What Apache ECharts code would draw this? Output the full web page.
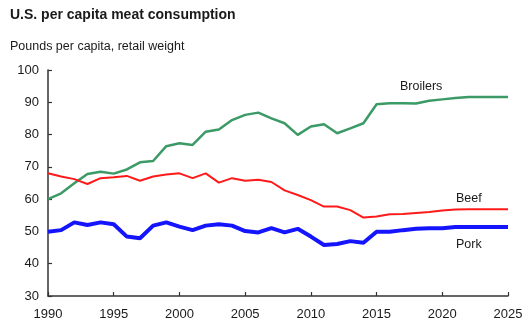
<!DOCTYPE html>
<html><head><meta charset="utf-8">
<script src="https://cdn.jsdelivr.net/npm/echarts@6/dist/echarts.min.js"></script>
<style>html,body{margin:0;padding:0;background:#fff}#c{width:531px;height:327px}</style>
</head><body><div id="c"></div>
<script>
const years = [1990,1991,1992,1993,1994,1995,1996,1997,1998,1999,2000,2001,2002,2003,2004,2005,2006,2007,2008,2009,2010,2011,2012,2013,2014,2015,2016,2017,2018,2019,2020,2021,2022,2023,2024,2025];
const broilers = [60.0,61.8,64.9,67.8,68.5,67.9,69.2,71.4,71.8,76.4,77.3,76.8,80.9,81.6,84.5,86.1,86.8,85.0,83.5,79.9,82.5,83.2,80.4,81.9,83.5,89.4,89.7,89.7,89.6,90.5,90.9,91.3,91.6,91.6,91.6,91.6];
const beef = [68.0,67.0,66.2,64.7,66.5,66.8,67.2,65.7,67.0,67.6,68.0,66.5,68.0,65.1,66.5,65.7,66.0,65.3,62.7,61.3,59.7,57.7,57.7,56.6,54.3,54.6,55.3,55.4,55.7,56.0,56.5,56.8,56.9,56.9,56.9,56.9];
const pork = [49.9,50.4,52.8,52.0,52.8,52.2,48.4,47.9,51.8,52.8,51.5,50.4,51.8,52.2,51.8,50.1,49.7,51.0,49.7,50.8,48.4,45.8,46.1,47.0,46.5,49.9,49.9,50.4,50.8,51.0,51.0,51.4,51.4,51.4,51.4,51.4];
const yTicks = [30,40,50,60,70,80,90,100];
const xTicks = [1990,1995,2000,2005,2010,2015,2020,2025];

const pairs = arr => years.map((y,i)=>[y,arr[i]]);
const chart = echarts.init(document.getElementById('c'));
const font = '"Liberation Sans", Arial, sans-serif';
chart.setOption({
  animation:false,
  textStyle:{fontFamily:font},
  title:[
    {text:'U.S. per capita meat consumption',left:5,top:3,textStyle:{fontSize:14,fontWeight:'bold',color:'#1a1a1a',fontFamily:font}},
    {text:'Pounds per capita, retail weight',left:5,top:35,textStyle:{fontSize:12.5,fontWeight:'normal',color:'#1a1a1a',fontFamily:font}}
  ],
  grid:{left:48,right:23,top:70,bottom:31,containLabel:false},
  xAxis:{type:'value',min:1990,max:2025,interval:5,
    axisLine:{lineStyle:{color:'#333',width:1.5}},
    axisTick:{inside:true,length:4,lineStyle:{color:'#333',width:1.2}},
    axisLabel:{fontSize:13,color:'#1a1a1a',margin:12,formatter:v=>String(v)},
    splitLine:{show:false}},
  yAxis:{type:'value',min:30,max:100,interval:10,
    axisLine:{show:true,lineStyle:{color:'#333',width:1.5}},
    axisTick:{show:true,inside:true,length:4,lineStyle:{color:'#333',width:1.2}},
    axisLabel:{fontSize:13,color:'#1a1a1a',margin:9},
    splitLine:{show:false}},
  series:[
    {name:'Broilers',type:'line',data:pairs(broilers),symbol:'none',lineStyle:{color:'#3b9a66',width:2.5}},
    {name:'Beef',type:'line',data:pairs(beef),symbol:'none',lineStyle:{color:'#ff1a1a',width:2}},
    {name:'Pork',type:'line',data:pairs(pork),symbol:'none',lineStyle:{color:'#1414ff',width:4}}
  ],
  graphic:[
    {type:'text',left:400,top:80,style:{text:'Broilers',fontSize:12.5,fill:'#1a1a1a',fontFamily:font}},
    {type:'text',left:456,top:192,style:{text:'Beef',fontSize:12.5,fill:'#1a1a1a',fontFamily:font}},
    {type:'text',left:456,top:238,style:{text:'Pork',fontSize:12.5,fill:'#1a1a1a',fontFamily:font}}
  ]
});
</script></body></html>
